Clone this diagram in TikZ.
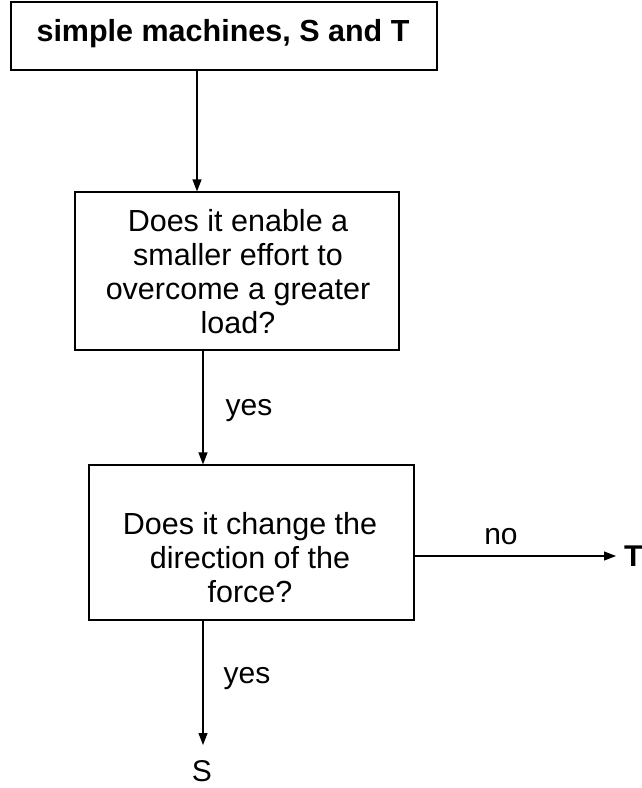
\documentclass[tikz,border=0pt]{standalone}
\usepackage{fontspec}
\setmainfont{Liberation Sans}
\usetikzlibrary{arrows.meta}
\begin{document}
\begin{tikzpicture}[x=1pt,y=-1pt,
  box/.style={draw, line width=1.2pt, inner sep=0pt},
  txt/.style={align=center, font=\fontsize{30.5}{34}\selectfont, inner sep=0pt},
  lbl/.style={font=\fontsize{30}{34}\selectfont, inner sep=0pt},
  arr/.style={line width=1.2pt, -{Triangle[length=12pt,width=9pt]}}]
\useasboundingbox (0,0) rectangle (641,788);
% boxes
\node[box, minimum width=426pt, minimum height=68pt] (b1) at (224,36) {};
\node[box, minimum width=324pt, minimum height=158pt] (b2) at (237,271) {};
\node[box, minimum width=325pt, minimum height=155pt] (b3) at (251.5,542.5) {};
% texts
\node[txt, font=\fontsize{30.5}{34}\selectfont\bfseries] (t1) at (223,34) {simple machines, S and T};
\node[txt] (t2) at (238,272) {Does it enable a\\smaller effort to\\overcome a greater\\load?};
\node[txt] (t3) at (250,558) {Does it change the\\direction of the\\force?};
% labels
\node[lbl] (yes1) at (249,411) {yes};
\node[lbl] (yes2) at (247,679) {yes};
\node[lbl] (no) at (501,537) {no};
\node[lbl, font=\fontsize{30}{34}\selectfont\bfseries, anchor=west] (T) at (624,556) {T};
\node[lbl] (S) at (202,771) {S};
% connector helpers
\coordinate (c1) at (197,0);
\coordinate (c2) at (203,0);
\coordinate (sEnd) at (203,745);
\coordinate (tEnd) at (616,556);
% connectors
\draw[arr] (b1.south -| c1) -- (b2.north -| c1);
\draw[arr] (b2.south -| c2) -- (b3.north -| c2);
\draw[arr] (b3.south -| c2) -- (sEnd);
\draw[arr] (b3.east |- tEnd) -- (tEnd);
\end{tikzpicture}
\end{document}
